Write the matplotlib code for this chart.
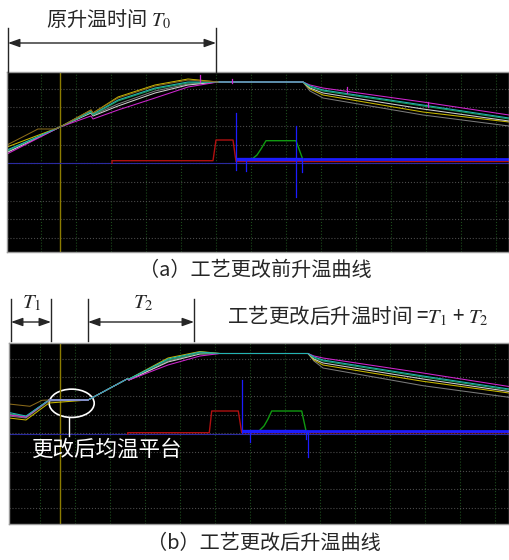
import numpy as np
import matplotlib
matplotlib.use("Agg")
import matplotlib.pyplot as plt
from matplotlib.patches import Ellipse

plt.rcParams['font.family'] = ['Noto Sans CJK SC', 'DejaVu Sans']
plt.rcParams['mathtext.fontset'] = 'stix'

# ---- panel (a): heating curve before the process change ----
xa = [0, 53, 84, 86, 111, 148, 181, 211, 296, 303, 316, 416, 502]
ya_gray = [100, 125, 140, 137, 148, 161, 168, 170, 170, 161, 154, 137, 126]
ya_yellow = [105, 125, 142, 139, 155, 167, 173, 170, 170, 163, 157, 140, 130]
ya_white = [99.5, 125, 139, 136, 146, 159, 167, 170, 170, 164, 159, 143, 131]
ya_green = [101, 125, 140, 137, 151, 163, 169, 170, 170, 165, 161, 146, 133]
ya_pink = [98, 125, 136, 133, 142, 154, 165, 170, 170, 167, 164, 150, 137]
ya_cyan = [102, 125, 141, 138, 152, 164, 170, 170, 170, 166, 162, 147, 134]
xa_brown = [0, 31, 48, 53, 84, 86, 111, 148, 181, 211]
ya_brown = [107, 123, 123, 125, 142, 139, 154, 166, 172, 170]
pink_spikes_a = [(193, 170, 177), (340, 159, 165), (421, 145, 150), (225, 169, 173)]

xa_red = [105, 105, 206, 209, 226, 229, 502]
ya_red = [88.7, 91.3, 91.3, 112, 112, 90.5, 90.5]
xa_grn = [246, 250, 254, 259, 289, 296]
ya_grn = [93.7, 97, 103, 111.3, 111.3, 92]
blue_level_a = 93
blue_start_a, blue_noisy_a = 229, 296
blue_spikes_a = [(229, 82, 138.7), (239, 81.3, 93), (289, 55.3, 126), (294.7, 80, 93)]
base_a = 88.7

# ---- panel (b): heating curve after the process change ----
xb = [0, 17, 40, 79, 118, 120, 159, 191, 211, 299, 305, 314, 414, 500]
yb_gray = [108, 106, 123, 124, 145, 144, 163, 171, 170.5, 170.5, 163, 156, 138.3, 126.7]
yb_yellow = [106, 104, 121, 124, 145, 145, 166, 172.5, 170.5, 170.5, 164, 159, 142.7, 131]
yb_white = [110, 107, 124, 124, 145, 144, 162, 170, 170.5, 170.5, 165, 161, 145, 132.5]
yb_green = [110, 107.5, 124, 124, 145, 145, 164, 171, 170.5, 170.5, 166, 163, 147, 134]
yb_pink = [109, 107, 124, 124, 145, 144, 159, 168, 170.5, 170.5, 168, 166, 151, 137.5]
yb_cyan = [111.5, 108, 124, 124, 145, 145, 165, 172, 170.5, 170.5, 167, 164, 148, 135]
xb_brown = [0, 21, 33, 40]
yb_brown = [120, 117.7, 123.7, 124]
xb_plateau = [40, 79]
yb_plateau = [124, 124]

xb_red = [118.7, 118.7, 200.3, 202.7, 229.3, 232.7, 500]
yb_red = [90, 91.3, 91.3, 113, 113, 91.3, 91.3]
xb_grn = [251, 255, 259, 262.7, 292.7, 297.7]
yb_grn = [94, 98, 105, 113, 113, 90]
blue_level_b = 93.3
blue_start_b, blue_noisy_b = 232.7, 297
blue_spikes_b = [(233.3, 90.7, 144), (241, 82.3, 93), (299.3, 67.3, 93), (297, 85, 93)]
base_b = 90

W, H = 509, 560
fig = plt.figure(figsize=(W / 100, H / 100), dpi=100)
fig.patch.set_facecolor('white')

COL = {
    'gray': '#7a7a7a', 'yellow': '#c9b800', 'white': '#d0d0d0',
    'green': '#1f9f5a', 'pink': '#d026d0', 'cyan': '#22b4b4',
    'brown': '#8a6a1a',
}


def setup(ax, w, h, xg0, yg0):
    ax.set_facecolor('black')
    ax.set_xlim(0, w)
    ax.set_ylim(0, h)
    ax.set_xticks(np.arange(xg0, w, 35))
    ax.set_yticks(np.arange(yg0, h, 18.67))
    ax.tick_params(length=0, labelbottom=False, labelleft=False)
    ax.xaxis.grid(True, color='#1c4a1c', linestyle=':', linewidth=0.8)
    ax.yaxis.grid(True, color='#4a4a4a', linestyle=':', linewidth=0.8)
    ax.set_axisbelow(True)
    for s in ax.spines.values():
        s.set_color('#9a9a9a')
        s.set_linewidth(1.0)


def draw_panel(ax, x, curves, red, grn, base, blue_level, b0, b1, spikes, w, yellow_x):
    ax.axvline(yellow_x, color='#8c7c00', lw=1.0)
    ax.plot([0, w], [base, base], color='#2a2aa0', lw=0.8)
    ax.plot(red[0], red[1], color='#b01010', lw=1.0)
    ax.plot(grn[0], grn[1], color='#109a10', lw=1.0)
    ax.plot([b0, b1], [blue_level, blue_level], color='#1c1cff', lw=2.4, solid_capstyle='butt')
    ax.plot([b1, w], [blue_level, blue_level], color='#1c1cff', lw=2.0, solid_capstyle='butt')
    for sx, s0, s1 in spikes:
        ax.plot([sx, sx], [s0, s1], color='#1c1cff', lw=0.9)
    for name in ['gray', 'yellow', 'white', 'green', 'pink', 'cyan']:
        ax.plot(x, curves[name], color=COL[name], lw=0.75)


ax_a = fig.add_axes([7 / W, (H - 252) / H, 502 / W, 180 / H])
setup(ax_a, 502, 180, 33.7, 14)
draw_panel(ax_a, xa,
           {'gray': ya_gray, 'yellow': ya_yellow, 'white': ya_white,
            'green': ya_green, 'pink': ya_pink, 'cyan': ya_cyan},
           (xa_red, ya_red), (xa_grn, ya_grn), base_a, blue_level_a,
           blue_start_a, blue_noisy_a, blue_spikes_a, 502, 53)
ax_a.plot(xa_brown, ya_brown, color=COL['brown'], lw=0.75)
for sx, s0, s1 in pink_spikes_a:
    ax_a.plot([sx, sx], [s0, s1], color=COL['pink'], lw=0.9)

ax_b = fig.add_axes([9 / W, (H - 524) / H, 500 / W, 181 / H])
setup(ax_b, 500, 181, 31, 16)
draw_panel(ax_b, xb,
           {'gray': yb_gray, 'yellow': yb_yellow, 'white': yb_white,
            'green': yb_green, 'pink': yb_pink, 'cyan': yb_cyan},
           (xb_red, yb_red), (xb_grn, yb_grn), base_b, blue_level_b,
           blue_start_b, blue_noisy_b, blue_spikes_b, 500, 51)
ax_b.plot(xb_brown, yb_brown, color=COL['brown'], lw=0.75)
ax_b.plot(xb_plateau, yb_plateau, color='#9090d0', lw=1.1)

# callout for the new soaking plateau
ax_b.add_patch(Ellipse((62.7, 120.7), 45, 28.3, fill=False, ec='white', lw=1.2))
ax_b.plot([60.3, 60.3], [88, 106.5], color='white', lw=1.0)
ax_b.text(23, 74, '更改后均温平台', color='white', fontsize=15.5, va='center', ha='left')

# overlay in pixel units for the time spans and captions
ov = fig.add_axes([0, 0, 1, 1])
ov.set_xlim(0, W)
ov.set_ylim(H, 0)
ov.axis('off')
ov.patch.set_alpha(0)

ink = '#262626'


def span(x0, x1, y, ytop, ybot):
    ov.plot([x0, x0], [ytop, ybot], color=ink, lw=1.0)
    ov.plot([x1, x1], [ytop, ybot], color=ink, lw=1.0)
    ov.annotate('', xy=(x1, y), xytext=(x0, y),
                arrowprops=dict(arrowstyle='<|-|>,head_length=0.7,head_width=0.25',
                                color=ink, lw=1.0, shrinkA=0, shrinkB=0))


span(8, 216, 43, 28, 72)
ov.text(109, 20, '原升温时间 $T_0$', color=ink, fontsize=14.5, ha='center', va='center')

span(11, 51, 322, 299, 341)
span(88, 194, 322, 299, 341)
ov.text(32, 302, '$T_1$', color=ink, fontsize=15, ha='center', va='center')
ov.text(143, 302, '$T_2$', color=ink, fontsize=15, ha='center', va='center')
ov.text(227, 316, '工艺更改后升温时间 =$T_1$ + $T_2$', color=ink, fontsize=14.8,
        ha='left', va='center')

ov.text(255, 270, '（a）工艺更改前升温曲线', color=ink, fontsize=14.5, ha='center', va='center')
ov.text(264, 543, '（b）工艺更改后升温曲线', color=ink, fontsize=14.5, ha='center', va='center')

fig.savefig('out.png', dpi=100, facecolor='white')
